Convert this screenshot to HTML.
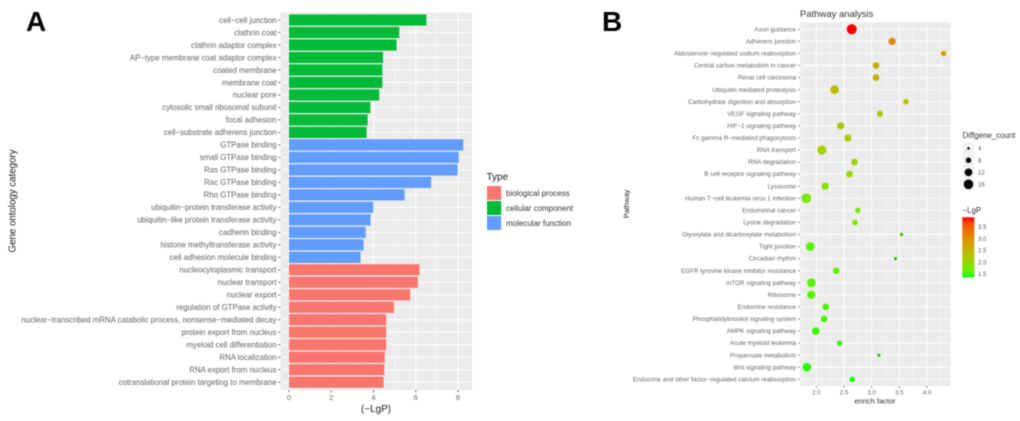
<!DOCTYPE html>
<html lang="en">
<head>
<meta charset="utf-8">
<title>Gene ontology and pathway analysis</title>
<style>
html,body{margin:0;padding:0;background:#fff;width:1020px;height:421px;overflow:hidden}
svg{display:block;filter:blur(0.55px);font-family:"Liberation Sans",sans-serif}
</style>
</head>
<body>
<svg id="fig" xmlns="http://www.w3.org/2000/svg" width="1020" height="421" viewBox="0 0 1020 421">
  <defs>
    <linearGradient id="lgp-gradient" x1="0" y1="1" x2="0" y2="0"></linearGradient>
  </defs>
  <text x="26" y="31" font-size="28" font-weight="700" fill="#000">A</text>
  <text x="602" y="31" font-size="28" font-weight="700" fill="#000">B</text>
  <g id="chartA"></g>
  <g id="chartB"></g>
</svg>
<script>
/* ---------- Chart A data ---------- */
const goTerms = ["cell−cell junction","clathrin coat","clathrin adaptor complex","AP−type membrane coat adaptor complex","coated membrane","membrane coat","nuclear pore","cytosolic small ribosomal subunit","focal adhesion","cell−substrate adherens junction","GTPase binding","small GTPase binding","Ras GTPase binding","Rac GTPase binding","Rho GTPase binding","ubiquitin−protein transferase activity","ubiquitin−like protein transferase activity","cadherin binding","histone methyltransferase activity","cell adhesion molecule binding","nucleocytoplasmic transport","nuclear transport","nuclear export","regulation of GTPase activity","nuclear−transcribed mRNA catabolic process, nonsense−mediated decay","protein export from nucleus","myeloid cell differentiation","RNA localization","RNA export from nucleus","cotranslational protein targeting to membrane"];
const goValues = [6.5,5.22,5.09,4.45,4.42,4.42,4.27,3.85,3.72,3.67,8.25,8.03,7.98,6.73,5.47,3.99,3.86,3.63,3.53,3.39,6.18,6.1,5.74,4.97,4.6,4.6,4.6,4.53,4.51,4.48];
const goTypes = ["cellular component","cellular component","cellular component","cellular component","cellular component","cellular component","cellular component","cellular component","cellular component","cellular component","molecular function","molecular function","molecular function","molecular function","molecular function","molecular function","molecular function","molecular function","molecular function","molecular function","biological process","biological process","biological process","biological process","biological process","biological process","biological process","biological process","biological process","biological process"];
const typeLevels = ["biological process","cellular component","molecular function"];
const goTicks = [0,2,4,6,8];

/* ---------- Chart B data ---------- */
const pathways = ["Axon guidance","Adherens junction","Aldosterone−regulated sodium reabsorption","Central carbon metabolism in cancer","Renal cell carcinoma","Ubiquitin mediated proteolysis","Carbohydrate digestion and absorption","VEGF signaling pathway","HIF−1 signaling pathway","Fc gamma R−mediated phagocytosis","RNA transport","RNA degradation","B cell receptor signaling pathway","Lysosome","Human T−cell leukemia virus 1 infection","Endometrial cancer","Lysine degradation","Glyoxylate and dicarboxylate metabolism","Tight junction","Circadian rhythm","EGFR tyrosine kinase inhibitor resistance","mTOR signaling pathway","Ribosome","Endocrine resistance","Phosphatidylinositol signaling system","AMPK signaling pathway","Acute myeloid leukemia","Propanoate metabolism","Wnt signaling pathway","Endocrine and other factor−regulated calcium reabsorption"];
const enrichFactor = [2.64,3.37,4.30,3.08,3.08,2.33,3.62,3.15,2.44,2.57,2.10,2.69,2.60,2.16,1.82,2.75,2.70,3.54,1.89,3.43,2.36,1.91,1.91,2.17,2.14,1.99,2.42,3.13,1.83,2.65];
const geneCount = [17,11,8,10,10,14,8,9,11,11,15,10,10,11,16,8,8,5,14,5,10,14,13,10,10,12,8,5,14,8];
const lgP = [3.9,3.09,2.76,2.63,2.63,2.42,2.35,2.27,2.25,2.15,2.1,2.0,1.98,1.8,1.72,1.75,1.7,1.65,1.55,1.6,1.58,1.55,1.52,1.47,1.47,1.45,1.45,1.42,1.4,1.38];
const enrichTicks = [2.0,2.5,3.0,3.5,4.0];
const sizeLegend = [4,8,12,16];
const colorTicks = [1.5,2.0,2.5,3.0,3.5];

const NS = "http://www.w3.org/2000/svg";
function add(parent, tag, attrs, text){
  const el = document.createElementNS(NS, tag);
  for (const k in attrs) el.setAttribute(k, attrs[k]);
  if (text !== undefined) el.textContent = text;
  parent.appendChild(el);
  return el;
}

const typeColors = {"biological process":"#F8766D","cellular component":"#00BA38","molecular function":"#619CFF"};

/* ---------- Chart A ---------- */
(function(){
  const g = document.getElementById("chartA");
  const L=280.5, R=472, T=12.5, B=390;
  const x0=289, pxPerUnit=21.125, y0=20, rowH=12.49;
  const xA = v => x0 + v*pxPerUnit;
  const yA = i => y0 + i*rowH;

  const panel = add(g,"rect",{x:L,y:T,width:R-L,height:B-T,fill:"#ebebeb"});
  
  

  goTicks.forEach((t,idx)=>{
    if (idx < goTicks.length-1){
      const minor = add(g,"line",{x1:xA(t+1),x2:xA(t+1),y1:T,y2:B,stroke:"#fff","stroke-width":0.5});
      
      
    }
    const major = add(g,"line",{x1:xA(t),x2:xA(t),y1:T,y2:B,stroke:"#fff","stroke-width":1});
    
    
    const tick = add(g,"line",{x1:xA(t),x2:xA(t),y1:B,y2:B+2.5,stroke:"#555","stroke-width":0.8});
    
    
    const lab = add(g,"text",{x:xA(t),y:B+10,"font-size":7.6,"text-anchor":"middle",fill:"#6a6a6a"},String(t));
    
    
  });

  goTerms.forEach((term,i)=>{
    const y = yA(i);
    const grid = add(g,"line",{x1:L,x2:R,y1:y,y2:y,stroke:"#fff","stroke-width":1});
    
    
    const bar = add(g,"rect",{x:x0,y:y-5.6,width:xA(goValues[i])-x0,height:11.2,fill:typeColors[goTypes[i]]});
    
    
    const tick = add(g,"line",{x1:278,x2:280.5,y1:y,y2:y,stroke:"#555","stroke-width":0.8});
    
    
    const lab = add(g,"text",{x:276.5,y:y+2.8,"font-size":7.85,"text-anchor":"end",fill:"#5f5f5f"},term);
    
    
  });

  const yt = add(g,"text",{x:0,y:0,transform:"translate(15.5,201) rotate(-90)","font-size":9.7,"text-anchor":"middle",fill:"#1a1a1a"},"Gene ontology category");
  
  
  const xt = add(g,"text",{x:376,y:412,"font-size":9.9,"text-anchor":"middle",fill:"#1a1a1a"},"(−LgP)");
  
  

  const lt = add(g,"text",{x:486.5,y:180,"font-size":10,fill:"#1a1a1a"},"Type");
  
  
  typeLevels.forEach((lv,i)=>{
    const ky = 186 + i*15;
    const key = add(g,"rect",{x:487,y:ky,width:14.2,height:14,fill:typeColors[lv]});
    
    
    const lab = add(g,"text",{x:506,y:ky+9.8,"font-size":8,fill:"#333"},lv);
    
    
  });
})();

/* ---------- Lab colour scale: green to red ---------- */
function labColor(t){
  t = Math.max(0,Math.min(1,t));
  const Lv = 87.73+(53.24-87.73)*t, a = -86.18+(80.09+86.18)*t, b = 83.18+(67.2-83.18)*t;
  const fy=(Lv+16)/116, fx=fy+a/500, fz=fy-b/200;
  const inv = f => f>0.20690 ? f*f*f : (f-16/116)/7.787;
  const X=0.95047*inv(fx), Y=inv(fy), Z=1.08883*inv(fz);
  const lin=[3.2406*X-1.5372*Y-0.4986*Z,-0.9689*X+1.8758*Y+0.0415*Z,0.0557*X-0.2040*Y+1.0570*Z];
  const ch = lin.map(c=>{
    c=Math.max(0,Math.min(1,c));
    c = c<=0.0031308 ? 12.92*c : 1.055*Math.pow(c,1/2.4)-0.055;
    return Math.round(c*255);
  });
  return "rgb("+ch.join(",")+")";
}

/* ---------- Chart B ---------- */
(function(){
  const g = document.getElementById("chartB");
  const L=800, R=950.7, T=22.3, B=386;
  const xB = v => 816.3 + (v-2)*55.35;
  const yB = i => 29.3 + i*12.07;
  const rB = c => 1.3 + 1.75*(Math.sqrt(c)-2);
  const lgpMin = 1.36, lgpMax = 3.9;
  const colorOf = v => labColor((v-lgpMin)/(lgpMax-lgpMin));

  const panel = add(g,"rect",{x:L,y:T,width:R-L,height:B-T,fill:"#ebebeb"});
  
  

  const title = add(g,"text",{x:800,y:17,"font-size":9.5,fill:"#333"},"Pathway analysis");
  
  

  [1.75].concat(enrichTicks.map(t=>t+0.25)).forEach(t=>{
    const minor = add(g,"line",{x1:xB(t),x2:xB(t),y1:T,y2:B,stroke:"#fff","stroke-width":0.45});
    
    
  });
  enrichTicks.forEach(t=>{
    const major = add(g,"line",{x1:xB(t),x2:xB(t),y1:T,y2:B,stroke:"#fff","stroke-width":0.9});
    
    
    const tick = add(g,"line",{x1:xB(t),x2:xB(t),y1:B,y2:B+2,stroke:"#555","stroke-width":0.7});
    
    
    const lab = add(g,"text",{x:xB(t),y:B+8.5,"font-size":6.2,"text-anchor":"middle",fill:"#6a6a6a"},t.toFixed(1));
    
    
  });

  pathways.forEach((p,i)=>{
    const y = yB(i);
    const grid = add(g,"line",{x1:L,x2:R,y1:y,y2:y,stroke:"#fff","stroke-width":0.9});
    
    
    const tick = add(g,"line",{x1:798,x2:800,y1:y,y2:y,stroke:"#555","stroke-width":0.7});
    
    
    const lab = add(g,"text",{x:796,y:y+2.1,"font-size":6.27,"text-anchor":"end",fill:"#666"},p);
    
    
  });

  pathways.forEach((p,i)=>{
    const dot = add(g,"circle",{cx:xB(enrichFactor[i]),cy:yB(i),r:rB(geneCount[i]),fill:colorOf(lgP[i])});
    
    
    if (geneCount[i] <= 5){
      const core = add(g,"circle",{cx:xB(enrichFactor[i]),cy:yB(i),r:1,fill:"#2c7d22"});
      
      
    }
  });

  const yt = add(g,"text",{x:0,y:0,transform:"translate(629,204) rotate(-90)","font-size":7.5,"text-anchor":"middle",fill:"#1a1a1a"},"Pathway");
  
  
  const xt = add(g,"text",{x:875,y:403.5,"font-size":7.5,"text-anchor":"middle",fill:"#333"},"enrich factor");
  
  

  const st = add(g,"text",{x:962.5,y:138,"font-size":7.9,fill:"#333"},"Diffgene_count");
  
  
  const keyBg = add(g,"rect",{x:962.7,y:142.3,width:11.5,height:48,fill:"#f2f2f2"});
  
  
  sizeLegend.forEach((c,i)=>{
    const cy = 148.3 + i*12;
    const d = add(g,"circle",{cx:968.5,cy:cy,r:rB(c),fill:"#000"});
    
    
    const lab = add(g,"text",{x:978,y:cy+2.2,"font-size":6,fill:"#555"},String(c));
    
    
  });

  const ct = add(g,"text",{x:962.5,y:213,"font-size":7.9,fill:"#333"},"−LgP");
  
  
  const grad = document.getElementById("lgp-gradient");
  for (let s=0; s<=10; s++){
    add(grad,"stop",{offset:(s*10)+"%","stop-color":labColor(s/10)});
  }
  const bar = add(g,"rect",{x:962.3,y:217.3,width:12,height:60,fill:"url(#lgp-gradient)"});
  
  
  colorTicks.forEach(t=>{
    const y = 277.3 - (t-lgpMin)/(lgpMax-lgpMin)*60;
    const lab = add(g,"text",{x:978,y:y+2.2,"font-size":6,fill:"#555"},t.toFixed(1));
    
    
  });
})();
</script>
</body>
</html>
